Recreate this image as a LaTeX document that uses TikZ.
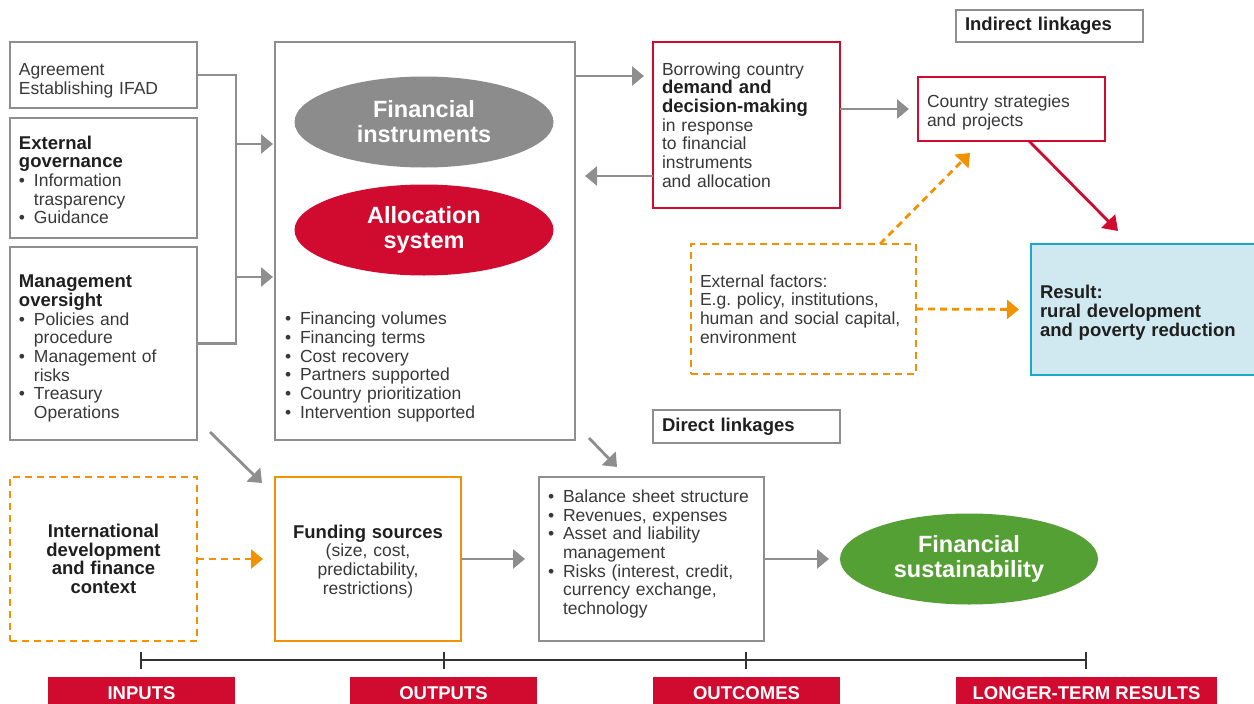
\documentclass[tikz,border=0pt]{standalone}
\usepackage{fontspec}
\setmainfont{Liberation Sans}
\usetikzlibrary{arrows.meta,shapes.geometric,calc}
\definecolor{ggray}{HTML}{8E8E8E}
\definecolor{egray}{HTML}{8C8C8C}
\definecolor{ifred}{HTML}{D10A2F}
\definecolor{iforange}{HTML}{F39200}
\definecolor{ifcyan}{HTML}{1BA9CA}
\definecolor{ifblue}{HTML}{D0E8EF}
\definecolor{ifgreen}{HTML}{55A035}
\definecolor{txt}{HTML}{383838}
\definecolor{tline}{HTML}{333333}
\newcommand\rgf{\fontsize{17.5}{18.7}\selectfont}
\newcommand\hb[1]{{\fontsize{18.5}{18.7}\selectfont\bfseries\color{black!88}#1}}
\newcommand\bl{\par\hangindent=15pt\hangafter=1\noindent\makebox[15pt][l]{\textbullet}\ignorespaces}
\newcommand\tops[1]{\rule{0pt}{#1}}
\begin{document}
\begin{tikzpicture}[x=1pt,y=-1pt,
 every node/.style={inner sep=0pt, outer sep=0pt},
 box/.style={draw=ggray, line width=2.8pt, anchor=north west, inner xsep=9pt, inner ysep=0pt, align=left, font=\rgf, text=txt},
 redbox/.style={box, draw=ifred},
 obox/.style={box, draw=iforange},
 dbox/.style={box, draw=iforange, dash pattern=on 7pt off 5pt},
 hdr/.style={box, font=\fontsize{18.5}{19}\selectfont\bfseries, text=black!88},
 ell/.style={ellipse, minimum width=259pt, minimum height=91pt, text=white, align=center, font=\fontsize{23.5}{25}\selectfont\bfseries},
 garr/.style={draw=ggray, line width=2.8pt, -{Triangle[length=12pt,width=19pt]}},
 gline/.style={draw=ggray, line width=2.8pt},
 rarr/.style={draw=ifred, line width=2.8pt, -{Triangle[length=14pt,width=19pt]}},
 oarr/.style={draw=iforange, line width=2.8pt, dash pattern=on 7pt off 5pt, -{Triangle[length=12pt,width=19pt]}},
 tl/.style={draw=tline, line width=2.8pt},
 lab/.style={fill=ifred, text=white, font=\fontsize{18.5}{18.5}\selectfont\bfseries, minimum height=33pt, anchor=north west}
]
\useasboundingbox (0,0) rectangle (1254,704);

% left column
\node[box, minimum width=187pt, minimum height=66pt, text width=169pt] (agr) at (10,42) {\tops{23pt}Agreement\\Establishing IFAD};
\node[box, minimum width=187pt, minimum height=120pt, text width=169pt] (gov) at (10,118) {\hb{\tops{17pt}External\\governance}\bl Information\newline trasparency\bl Guidance\par};
\node[box, minimum width=187pt, minimum height=193pt, text width=169pt] (mgt) at (10,247) {\hb{\tops{23pt}Management\\oversight}\bl Policies and\newline procedure\bl Management of\newline risks\bl Treasury\newline Operations\par};

% big box
\node[box, minimum width=300pt, minimum height=398pt] (big) at (275,42) {};
\node[ell, fill=egray] (fi) at (424,122) {Financial\\instruments};
\node[ell, fill=ifred] (al) at (424,230) {Allocation\\system};
\node[anchor=north west, align=left, text width=280pt, font=\rgf, text=txt] (lst) at (285,306) {\bl Financing volumes\bl Financing terms\bl Cost recovery\bl Partners supported\bl Country prioritization\bl Intervention supported\par};

% right upper
\node[redbox, minimum width=187pt, minimum height=166pt, text width=169pt] (bor) at (653,42) {Borrowing country\\\hb{demand and\\decision-making}\\in response\\to financial\\instruments\\and allocation};
\node[hdr, minimum width=187pt, minimum height=32pt, text width=169pt] (ind) at (956,10) {Indirect linkages};
\node[redbox, minimum width=187pt, minimum height=64pt, text width=169pt] (cty) at (918,77) {\tops{19pt}Country strategies\\and projects};
\node[box, draw=ifcyan, fill=ifblue, minimum width=226pt, minimum height=131pt, text width=208pt] (res) at (1031,244) {\hb{\tops{19.5pt}Result:\\rural development\\and poverty reduction}};
\node[dbox, minimum width=225pt, minimum height=130pt, text width=207pt] (ext) at (691,244) {External factors:\\E.g.\ policy, institutions,\\human and social capital,\\environment};
\node[hdr, minimum width=187pt, minimum height=33pt, text width=169pt] (dir) at (653,410) {Direct linkages};

% bottom row
\node[dbox, align=center, minimum width=187pt, minimum height=164pt, text width=169pt] (intl) at (10,477) {\hb{International\\development\\and finance\\context}};
\node[obox, align=center, minimum width=186pt, minimum height=164pt, text width=168pt] (fund) at (275,477) {\hb{\tops{18pt}Funding sources}\\(size, cost,\\predictability,\\restrictions)};
\node[box, minimum width=225pt, minimum height=164pt, text width=207pt] (bal) at (539,477) {\bl Balance sheet structure\bl Revenues, expenses\bl Asset and liability\newline management\bl Risks (interest, credit,\newline currency exchange,\newline technology\par\vspace{16pt}};
\node[ell, fill=ifgreen, minimum width=258pt] (sus) at (969,559) {Financial\\sustainability};

% left bracket connectors
\coordinate (jx) at (236,0);
\coordinate (j1) at (236,144);
\coordinate (j2) at (236,277);
\draw[gline] (agr.east) -| (jx |- mgt.east) -- (mgt.east);
\draw[garr, shorten >=2pt] (j1) -- (j1 -| big.west);
\draw[garr, shorten >=2pt] (j2) -- (j2 -| big.west);

% upper connectors
\draw[garr, shorten >=9pt] (big.east |- 0,76) -- (bor.west |- 0,76);
\draw[garr, shorten >=10pt] (bor.west |- 0,176) -- (big.east |- 0,176);
\draw[garr, shorten >=9pt] (bor.east |- cty.west) -- (cty.west);
\draw[rarr] ([xshift=17.5pt]cty.south) -- ($(res.north west)+(87,-13)$);
\draw[oarr] ($(ext.north west)+(189,0)$) -- ($(cty.south west)+(52,12)$);
\draw[oarr, shorten >=12pt] (ext.east) -- (res.west);

% lower connectors
\draw[garr] ($(mgt.south east)+(13,-8)$) -- ($(fund.north west)+(-13,6)$);
\draw[garr] ($(big.south east)+(14,-2)$) -- ($(bal.north west)+(78,-10)$);
\draw[oarr, shorten >=12pt] (intl.east) -- (fund.west);
\draw[garr, shorten >=14pt] (fund.east) -- (bal.west);
\draw[garr, shorten >=11pt] (bal.east) -- (sus.west);

% timeline
\coordinate (t1) at (141,660);
\coordinate (t2) at (444,660);
\coordinate (t3) at (746,660);
\coordinate (t4) at (1086,660);
\draw[tl] (t1) -- (t4);
\foreach \t in {t1,t2,t3,t4} \draw[tl] ([yshift=8.5pt]\t) -- ([yshift=-8.5pt]\t);

\node[lab, minimum width=187pt] (lin) at (48,677) {INPUTS};
\node[lab, minimum width=187pt] (lout) at (350,677) {OUTPUTS};
\node[lab, minimum width=187pt] (loc) at (653,677) {OUTCOMES};
\node[lab, minimum width=261pt] (llt) at (956,677) {LONGER-TERM RESULTS};
\end{tikzpicture}
\end{document}
